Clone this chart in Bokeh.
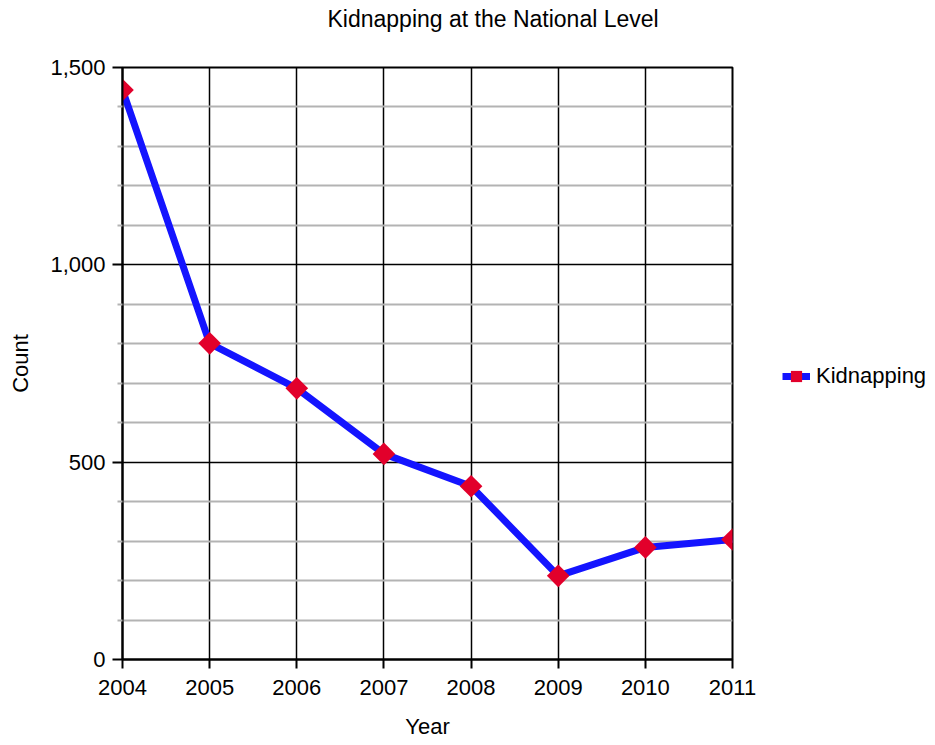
from bokeh.plotting import figure
from bokeh.layouts import row, column
from bokeh.models import (FixedTicker, Legend, LegendItem, Label, Range1d,
                          NumeralTickFormatter)
from bokeh.embed import file_html
from bokeh.resources import INLINE
import numpy as np

title_text = "Kidnapping at the National Level"
years = [2004, 2005, 2006, 2007, 2008, 2009, 2010, 2011]
kidnapping = [1443, 801, 687, 521, 439, 212, 284, 304]
y_major = [0, 500, 1000, 1500]
y_minor = [100, 200, 300, 400, 600, 700, 800, 900, 1100, 1200, 1300, 1400]
series_name = "Kidnapping"

FONT = "Liberation Sans"
FS = "22px"
LINE_COLOR = "#1414ff"
MARK_COLOR = "#e2002b"

# title strip (its frame is aligned with the chart frame by the layout)
tf = figure(width=778, height=37, output_backend="svg", toolbar_location=None,
            x_range=Range1d(0, 1), y_range=Range1d(0, 1),
            x_axis_type=None, y_axis_type=None, min_border=0)
tf.title = None
tf.outline_line_color = None
tf.grid.visible = False
tf.add_layout(Label(x=205, y=19, x_units="screen", y_units="screen",
                    text=title_text, text_align="left", text_baseline="middle",
                    text_font=FONT, text_font_size="23px", text_color="black"))

# main chart
p = figure(width=778, height=708, output_backend="svg", toolbar_location=None,
           x_range=Range1d(2004, 2011), y_range=Range1d(0, 1500),
           min_border_left=122, min_border_right=46, min_border_top=30,
           min_border_bottom=86)
p.title = None

p.outline_line_color = "black"
p.outline_line_width = 2

p.xaxis.ticker = FixedTicker(ticks=years)
p.yaxis.ticker = FixedTicker(ticks=y_major, minor_ticks=y_minor)
p.yaxis.formatter = NumeralTickFormatter(format="0,0")
for ax in (p.xaxis[0], p.yaxis[0]):
    ax.axis_line_color = "black"
    ax.axis_line_width = 2
    ax.major_tick_line_color = "black"
    ax.major_tick_line_width = 2
    ax.major_tick_in = 0
    ax.major_label_text_font = FONT
    ax.major_label_text_font_size = FS
    ax.major_label_text_color = "black"
    ax.axis_label_text_font = FONT
    ax.axis_label_text_font_size = FS
    ax.axis_label_text_font_style = "normal"
    ax.axis_label_text_color = "black"
p.xaxis.major_tick_out = 9
p.xaxis.minor_tick_line_color = None
p.xaxis.major_label_standoff = 11
p.xaxis.axis_label = "Year"
p.xaxis.axis_label_standoff = 16
p.yaxis.major_tick_out = 10
p.yaxis.minor_tick_out = 5
p.yaxis.minor_tick_in = 0
p.yaxis.minor_tick_line_color = "#b3b3b3"
p.yaxis.minor_tick_line_width = 2
p.yaxis.major_label_standoff = 7
p.yaxis.axis_label = "Count"
p.yaxis.axis_label_standoff = 14

p.xgrid.grid_line_color = "black"
p.xgrid.grid_line_width = 1.5
p.ygrid.grid_line_color = "black"
p.ygrid.grid_line_width = 1.5
p.ygrid.minor_grid_line_color = "#b3b3b3"
p.ygrid.minor_grid_line_width = 2

p.line(years, kidnapping, line_color=LINE_COLOR, line_width=7)
p.scatter(years, kidnapping, marker="square", angle=np.pi / 4, size=16,
          fill_color=MARK_COLOR, line_color=MARK_COLOR, line_width=0)

# legend panel on the right (same series, drawn outside its visible range)
q = figure(width=157, height=745, output_backend="svg", toolbar_location=None,
           x_range=Range1d(0, 1), y_range=Range1d(0, 1),
           x_axis_type=None, y_axis_type=None, min_border=0)
q.title = None
q.outline_line_color = None
q.grid.visible = False
lg_line = q.line(years, kidnapping, line_color=LINE_COLOR, line_width=7)
lg_pts = q.scatter(years, kidnapping, marker="square", angle=np.pi / 4, size=16,
                   fill_color=MARK_COLOR, line_color=MARK_COLOR, line_width=0)
legend = Legend(items=[LegendItem(label=series_name, renderers=[lg_line, lg_pts])],
                location=(4, 355), border_line_color=None,
                background_fill_alpha=0, padding=4, glyph_width=28,
                glyph_height=28, label_standoff=6, label_text_font=FONT,
                label_text_font_size=FS, label_text_color="black", margin=0)
q.add_layout(legend, "center")

layout = row(column(tf, p), q)
open("out.html", "w").write(file_html(layout, INLINE))
